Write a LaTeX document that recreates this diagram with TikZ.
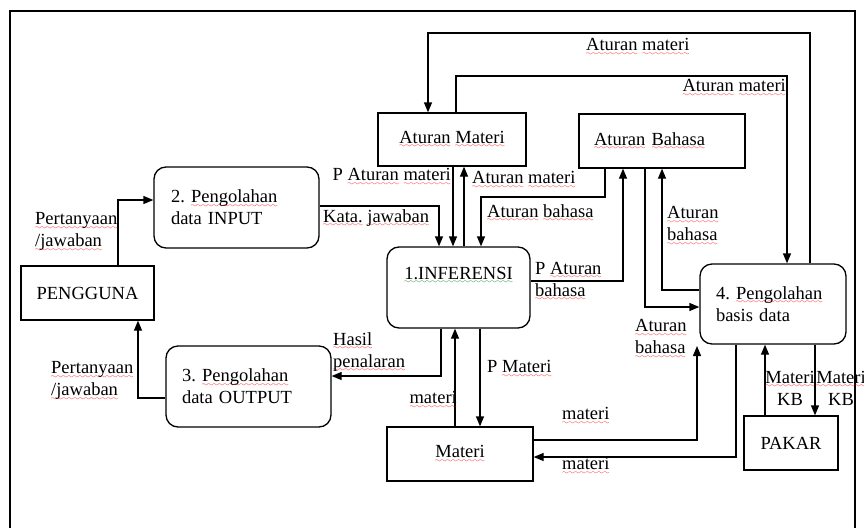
\documentclass[tikz,border=0pt]{standalone}
\usepackage{fontspec}
\setmainfont{Liberation Serif}
\usetikzlibrary{arrows.meta}
\font\wavyfont=lasy7
\newcommand\wavyline[2]{\setbox0\hbox{#2}\leavevmode\rlap{\textcolor{#1}{\lower4.5pt\hbox to\wd0{\xleaders\hbox{\wavyfont\char58}\hfil}}}\box0\relax}
\newcommand\rw[1]{\wavyline{red}{#1}}
\newcommand\gw[1]{\wavyline{green!50!black}{#1}}
\frenchspacing
\tikzset{
  box/.style={draw, line width=1.3pt, inner sep=0pt, align=center},
  proc/.style={box, rounded corners=12pt},
  lab/.style={inner sep=0pt, align=left},
  flow/.style={-{Triangle[length=10pt,width=8pt]}, line width=1.3pt},
  plain/.style={line width=1.3pt}
}
\begin{document}
\begin{tikzpicture}[x=1pt, y=-1pt, font=\fontsize{18.5}{22}\selectfont]
\useasboundingbox (0,0) rectangle (864,527);
\draw[plain] (10,530) -- (10,11) -- (855,11) -- (855,530);
% nodes
\node[box, minimum width=148pt, minimum height=53pt] (am) at (452,139.5) {\rw{Aturan} \rw{Materi}};
\node[box, minimum height=54pt, inner xsep=15pt, text width=136pt, align=left] (ab) at (662,141) {\rw{Aturan} \rw{Bahasa}};
\node[proc, minimum height=81pt, inner xsep=17pt, text width=131pt, align=left] (inp) at (236.5,207.5) {2. \rw{Pengolahan}\\data INPUT};
\node[box, minimum width=133pt, minimum height=54pt] (pg) at (87.5,293) {PENGGUNA};
\node[proc, minimum width=143pt, minimum height=81pt] (inf) at (458.5,287.5) {\gw{1.INFERENSI}\\ \strut};
\node[proc, minimum height=81pt, inner xsep=16pt, text width=133pt, align=left] (out) at (248.5,386.5) {3. \rw{Pengolahan}\\data OUTPUT};
\node[box, minimum width=146pt, minimum height=54pt] (mat) at (460,454) {\rw{Materi}};
\node[proc, minimum height=80pt, inner xsep=16pt, text width=114pt, align=left] (bd) at (773,304) {4. \rw{Pengolahan}\\basis data};
\node[box, minimum width=94pt, minimum height=54pt] (pk) at (791,443) {PAKAR};
% connectors
\draw[flow] (bd.north -| 810,0) -- (810,33) -- (428,33) -- (am.north -| 428,0);
\draw[flow] (am.north -| 456,0) -- (456,76) -- (787,76) -- (bd.north -| 787,0);
\draw[flow] (am.south -| 453,0) -- (inf.north -| 453,0);
\draw[flow] (inf.north -| 464,0) -- (am.south -| 464,0);
\draw[flow] (inp.east |- 0,206) -- (439,206) -- (inf.north -| 439,0);
\draw[flow] (ab.south -| 605,0) -- (605,197) -- (481,197) -- (inf.north -| 481,0);
\draw[flow] (inf.east |- 0,281) -- (623,281) -- (ab.south -| 623,0);
\draw[flow] (ab.south -| 645,0) -- (645,307) -- (bd.west |- 0,307);
\draw[flow] (bd.west |- 0,290) -- (662,290) -- (ab.south -| 662,0);
\draw[flow] (inf.south -| 441,0) -- (441,376) -- (out.east |- 0,376);
\draw[flow] (mat.north -| 455,0) -- (inf.south -| 455,0);
\draw[flow] (inf.south -| 480,0) -- (mat.north -| 480,0);
\draw[flow] (mat.east |- 0,440) -- (697,440) -- (697,346);
\draw[flow] (bd.south -| 736,0) -- (736,457) -- (mat.east |- 0,457);
\draw[flow] (pk.north -| 765,0) -- (bd.south -| 765,0);
\draw[flow] (bd.south -| 815,0) -- (pk.north -| 815,0);
\draw[flow] (pg.north -| 118,0) -- (118,200) -- (inp.west |- 0,200);
\draw[flow] (out.west |- 0,398) -- (138,398) -- (pg.south -| 138,0);
% labels
\node[lab, anchor=west] (l1) at (586,47) {\rw{Aturan} \rw{materi}};
\node[lab, anchor=east] (l2) at (786,88) {\rw{Aturan} \rw{materi}};
\node[lab, anchor=east] (l3) at (451,177) {P \rw{Aturan} \rw{materi}};
\node[lab, anchor=west] (l4) at (472,180) {\rw{Aturan} \rw{materi}};
\node[lab, anchor=west] (l5) at (323,218) {\rw{Kata.} \rw{jawaban}};
\node[lab, anchor=west] (l6) at (487,213) {\rw{Aturan} \rw{bahasa}};
\node[lab, anchor=west] (l7) at (535,281.5) {P \rw{Aturan}\\\rw{bahasa}};
\node[lab, anchor=west] (l8) at (667,226) {\rw{Aturan}\\\rw{bahasa}};
\node[lab, anchor=west] (l9) at (635,339) {\rw{Aturan}\\\rw{bahasa}};
\node[lab, anchor=west] (l10) at (333,352) {\rw{Hasil}\\\rw{penalaran}};
\node[lab, anchor=east] (l11) at (457,400) {\rw{materi}};
\node[lab, anchor=west] (l12) at (487,369) {P \rw{Materi}};
\node[lab, anchor=west] (l13) at (562,416) {\rw{materi}};
\node[lab, anchor=west] (l14) at (562,466) {\rw{materi}};
\node[lab, align=center] (l15) at (790,388) {\rw{Materi}\\KB};
\node[lab, align=center] (l16) at (841,388) {\rw{Materi}\\KB};
\node[lab, anchor=west] (l17) at (35,232) {\rw{Pertanyaan}\\\rw{/jawaban}};
\node[lab, anchor=west] (l18) at (51,381) {\rw{Pertanyaan}\\\rw{/jawaban}};
\end{tikzpicture}
\end{document}
